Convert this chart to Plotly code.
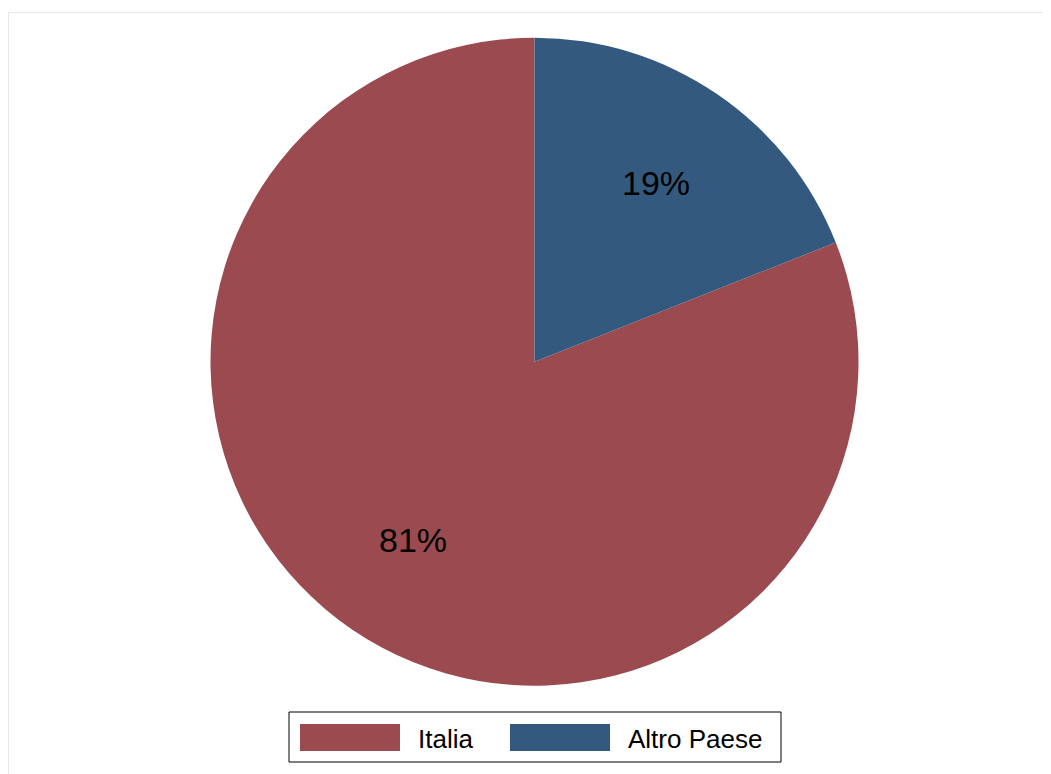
import math
import plotly.graph_objects as go

# Data
categories = ["Italia", "Altro Paese"]
values = [81, 19]
colors = ["#9b4a50", "#335a7e"]

W, H = 1051, 774
OFF = 8  # page body margin offset in the browser
FONT = "Liberation Sans, Arial, Helvetica, sans-serif"

def px_x(x):
    return (x - OFF) / W

def px_y(y):
    return 1 - (y - OFF) / H

# pie geometry (pixels in the screenshot)
cx, cy, r = 534.5, 361.7, 324
total = sum(values)
rotation = 360 * values[1] / total

fig = go.Figure(go.Pie(
    labels=categories,
    values=values,
    marker=dict(colors=colors, line=dict(width=0)),
    sort=False,
    direction="clockwise",
    rotation=rotation,
    textinfo="none",
    showlegend=False,
    hoverinfo="label+percent",
    domain=dict(x=[px_x(cx - r), px_x(cx + r)], y=[px_y(cy + r), px_y(cy - r)]),
))

annotations = []
# percent labels at 2/3 of radius on each slice bisector (derived from values)
start = rotation
for v in values:
    span = 360 * v / total
    mid = math.radians(start + span / 2)
    lx = cx + 0.667 * r * math.sin(mid)
    ly = cy - 0.667 * r * math.cos(mid)
    annotations.append(dict(xref="paper", yref="paper", x=px_x(lx), y=px_y(ly),
                            xanchor="center", yanchor="middle", showarrow=False,
                            text=f"{round(100 * v / total)}%",
                            font=dict(family=FONT, size=34, color="black")))
    start += span

shapes = [
    # outer faint frame
    dict(type="rect", xref="paper", yref="paper",
         x0=px_x(8.5), x1=px_x(1070), y0=px_y(800), y1=px_y(12.5),
         line=dict(color="#e3eaeb", width=1), fillcolor="rgba(0,0,0,0)", layer="below"),
    # legend box
    dict(type="rect", xref="paper", yref="paper",
         x0=px_x(289), x1=px_x(781), y0=px_y(762), y1=px_y(712),
         line=dict(color="black", width=1), fillcolor="white"),
]
sw_x = [300, 510]
tx_x = [417, 627]
for i, cat in enumerate(categories):
    shapes.append(dict(type="rect", xref="paper", yref="paper",
                       x0=px_x(sw_x[i]), x1=px_x(sw_x[i] + 100),
                       y0=px_y(751), y1=px_y(724),
                       line=dict(width=0), fillcolor=colors[i]))
    annotations.append(dict(xref="paper", yref="paper",
                            x=px_x(tx_x[i] - 1), y=px_y(739),
                            xanchor="left", yanchor="middle",
                            text=cat, showarrow=False,
                            font=dict(family=FONT, size=26, color="black")))

fig.update_layout(
    width=W, height=H,
    margin=dict(l=0, r=0, t=0, b=0),
    paper_bgcolor="white",
    plot_bgcolor="white",
    shapes=shapes,
    annotations=annotations,
)

fig.write_html("out.html")
